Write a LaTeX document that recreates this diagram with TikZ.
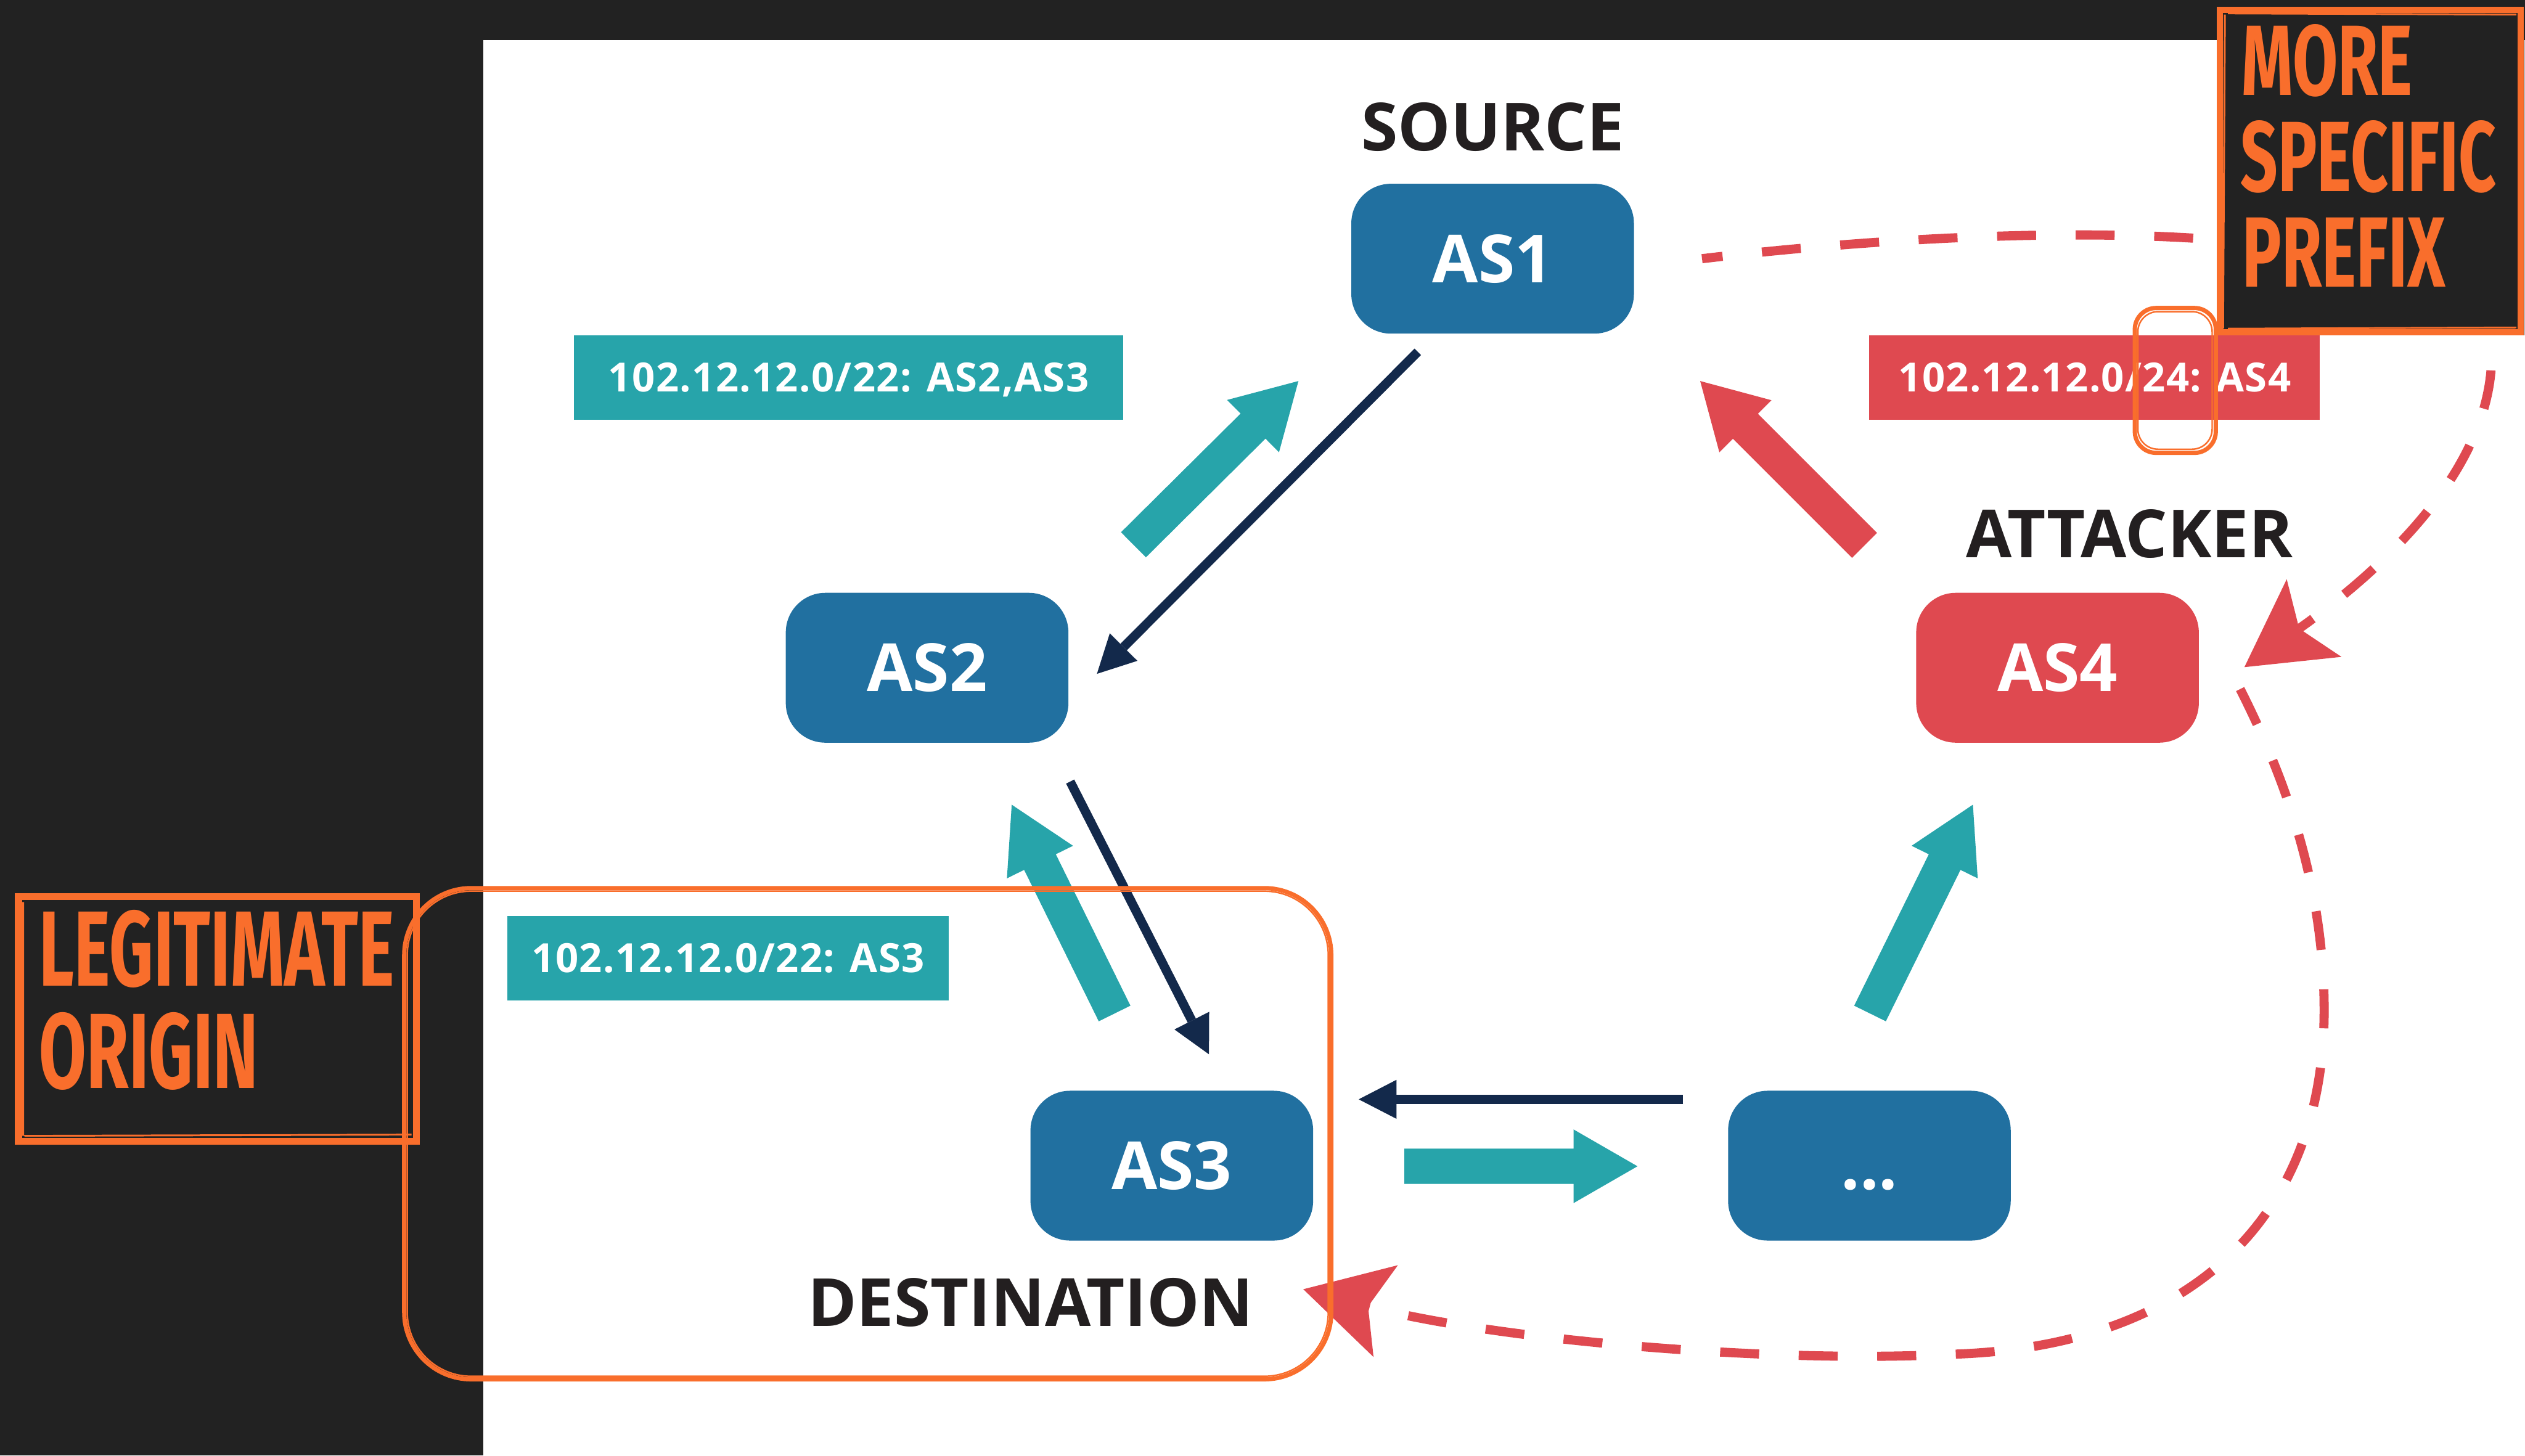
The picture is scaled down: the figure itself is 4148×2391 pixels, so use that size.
\documentclass[tikz,border=0pt]{standalone}
\usepackage{fontspec}
\setmainfont{Open Sans}
\newfontfamily\condfamily[FakeStretch=0.655]{Fira Sans}
\newfontfamily\condfamilyL[FakeStretch=0.64]{Fira Sans}
\usetikzlibrary{arrows.meta,calc}

\definecolor{asblue}{RGB}{33,112,160}
\definecolor{asred}{RGB}{223,73,80}
\definecolor{asteal}{RGB}{39,164,170}
\definecolor{asnavy}{RGB}{19,41,75}
\definecolor{hiorange}{RGB}{249,110,44}
\definecolor{panel}{RGB}{34,34,34}
\definecolor{ink}{RGB}{35,31,32}

\newcommand\asfont{\fontsize{1.09cm}{1.3cm}\selectfont\bfseries}
\newcommand\pfxfont{\fontsize{0.66cm}{0.8cm}\selectfont\bfseries\addfontfeatures{LetterSpace=2}}
\newcommand\notefont{\condfamily\bfseries\fontsize{1.64cm}{1.9cm}\selectfont}
\newcommand\notefontL{\condfamilyL\bfseries\fontsize{1.756cm}{2cm}\selectfont}

% wide block arrow: #1 colour, #2 tail centre, #3 tip
\newcommand\fatarrow[3]{%
  \coordinate (fa-base) at ($(#3)!1.05cm!(#2)$);
  \fill[#1] ($(#2)!0.29cm!90:(#3)$) --
            ($(fa-base)!0.29cm!90:(#3)$) --
            ($(fa-base)!0.605cm!90:(#3)$) --
            (#3) --
            ($(fa-base)!0.605cm!-90:(#3)$) --
            ($(fa-base)!0.29cm!-90:(#3)$) --
            ($(#2)!0.29cm!-90:(#3)$) -- cycle;}

\begin{document}
\begin{tikzpicture}[x=0.01cm,y=-0.01cm,
  asbox/.style={rectangle, rounded corners=0.65cm, minimum width=4.64cm,
    minimum height=2.46cm, inner sep=0pt, text=white, font=\asfont,
    text height=0.78cm, text depth=0pt},
  pfx/.style={rectangle, inner sep=0pt, minimum height=1.39cm, text=white,
    font=\pfxfont, text height=0.47cm, text depth=0pt},
  rolelabel/.style={anchor=base, inner sep=0pt, text=ink, font=\asfont},
  notetext/.style={anchor=base west, inner sep=0pt, text=hiorange},
  navyarrow/.style={draw=asnavy, line width=0.15cm,
    -{Triangle[length=0.62cm,width=0.64cm,line width=0pt]}},
  hijack/.style={draw=asred, line width=0.15cm,
    dash pattern=on 0.64cm off 0.65cm,
    -{Stealth[length=1.4cm,width=1.56cm,inset=0.3cm,line width=0pt]}},
  sketch/.style={draw=hiorange, line width=0.07cm}
]
\useasboundingbox (0,0) rectangle (4148,2391);
\fill[panel] (0,0) rectangle (4148,2391);
\fill[white] (794,66) rectangle (4148,2391);

% autonomous systems
\node[asbox, fill=asblue] (as1) at (2452,425) {AS1};
\node[asbox, fill=asblue] (as2) at (1523,1097) {AS2};
\node[asbox, fill=asblue] (as3) at (1925,1915) {AS3};
\node[asbox, fill=asblue] (asx) at (3071,1915) {...};
\node[asbox, fill=asred] (as4) at (3380,1097) {AS4};

% roles
\node[rolelabel] (src) at (2452,248) {SOURCE};
\node[rolelabel] (atk) at (3498,916) {ATTACKER};
\node[rolelabel] (dst) at (1693,2179) {DESTINATION};

% route announcements
\node[pfx, fill=asteal, minimum width=9.01cm] (p1) at (1394,620) {102.12.12.0/22: AS2,AS3};
\node[pfx, fill=asteal, minimum width=7.25cm] (p2) at (1196,1574) {102.12.12.0/22: AS3};
\node[pfx, fill=asred, minimum width=7.40cm] (p3) at (3441,620) {102.12.12.0/24: AS4};

% announcement propagation
\coordinate (t1a) at (1862,895);  \coordinate (t1b) at (2133,626);
\coordinate (t2a) at (1831,1665); \coordinate (t2b) at (1662,1322);
\coordinate (t3a) at (2307,1916); \coordinate (t3b) at (2690,1916);
\coordinate (t4a) at (3072,1665); \coordinate (t4b) at (3241,1322);
\coordinate (r1a) at (3063,896);  \coordinate (r1b) at (2793,626);
\fatarrow{asteal}{t1a}{t1b}
\fatarrow{asteal}{t2a}{t2b}
\fatarrow{asteal}{t3a}{t3b}
\fatarrow{asteal}{t4a}{t4b}
\fatarrow{asred}{r1a}{r1b}

% traffic
\coordinate (n1a) at (2329,578);  \coordinate (n1b) at (1802,1107);
\coordinate (n2a) at (1758,1284); \coordinate (n2b) at (1986,1732);
\coordinate (n3a) at (2765,1806); \coordinate (n3b) at (2232,1806);
\draw[navyarrow] (n1a) -- (n1b);
\draw[navyarrow] (n2a) -- (n2b);
\draw[navyarrow] (n3a) -- (n3b);

% hijacked traffic path
\coordinate (h1a) at (2796,425);  \coordinate (h1m) at (4092,610);
\coordinate (h1b) at (3687,1096);
\draw[hijack, dash phase=0.30cm] (h1a) .. controls (3300,365) and (4110,340) .. (h1m)
  .. controls (4075,800) and (3880,960) .. (h1b);
\coordinate (h2a) at (3680,1132); \coordinate (h2m) at (3818,1660);
\coordinate (h2n) at (3200,2225); \coordinate (h2b) at (2141,2118);
\draw[hijack] (h2a) .. controls (3770,1310) and (3818,1480) .. (h2m)
  .. controls (3818,2000) and (3600,2215) .. (h2n)
  .. controls (2900,2240) and (2450,2200) .. (h2b);

% more specific prefix callout
\fill[panel] (3642,11) rectangle (4147,551);
\draw[sketch, line width=0.10cm] (3647,16) rectangle (4141,546);
\draw[sketch, line width=0.03cm] (3655,24) -- (3652,540) (3660,540) -- (4134,538)
  (4134,24) -- (3660,22);
\node[notetext, font=\notefont] (m1) at (3682,156) {MORE};
\node[notetext, font=\notefont] (m2) at (3680,314) {SPECIFIC};
\node[notetext, font=\notefont] (m3) at (3683,471) {PREFIX};
\draw[sketch, rounded corners=0.35cm] (3507,506) rectangle (3640,744);
\draw[sketch, line width=0.025cm, rounded corners=0.33cm] (3512,512) rectangle (3634,738);

% legitimate origin callout
\draw[sketch, line width=0.12cm] (30,1473) rectangle (684,1875);
\draw[sketch, line width=0.03cm] (38,1482) -- (38,1866) (40,1866) -- (676,1864);
\node[notetext, font=\notefontL] (l1) at (64,1620) {LEGITIMATE};
\node[notetext, font=\notefontL] (l2) at (64,1788) {ORIGIN};
\draw[sketch, rounded corners=1.1cm] (664,1459) rectangle (2187,2266);
\draw[sketch, line width=0.025cm, rounded corners=1.05cm] (669,1464) rectangle (2182,2261);
\end{tikzpicture}
\end{document}
